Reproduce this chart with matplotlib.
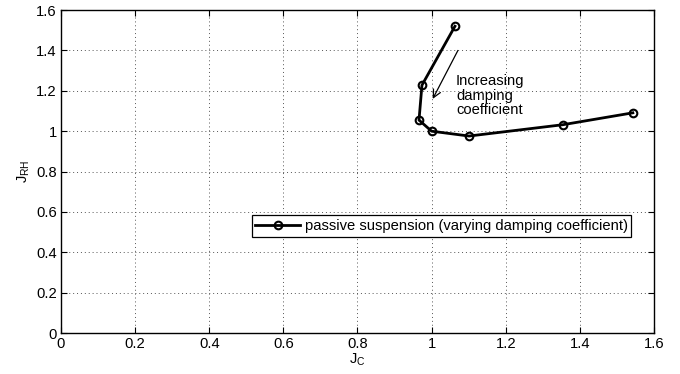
import matplotlib
matplotlib.use("Agg")
import matplotlib.pyplot as plt

plt.rcParams['font.family'] = ['Liberation Sans', 'DejaVu Sans']

jc = [1.063, 0.974, 0.966, 1.0, 1.101, 1.354, 1.543]
jrh = [1.52, 1.228, 1.055, 1.0, 0.976, 1.032, 1.091]
xticks = [0, 0.2, 0.4, 0.6, 0.8, 1, 1.2, 1.4, 1.6]
yticks = [0, 0.2, 0.4, 0.6, 0.8, 1, 1.2, 1.4, 1.6]
xtick_labels = ['0', '0.2', '0.4', '0.6', '0.8', '1', '1.2', '1.4', '1.6']
ytick_labels = ['0', '0.2', '0.4', '0.6', '0.8', '1', '1.2', '1.4', '1.6']
series_label = 'passive suspension (varying damping coefficient)'

fs = 10.6
fig = plt.figure(figsize=(6.8, 3.74), dpi=100)
ax = fig.add_axes([0.0897, 0.1096, 0.872, 0.8634])

ax.plot(jc, jrh, color='black', lw=2, marker='o', ms=5.5, mfc='none',
        mec='black', mew=1.5, label=series_label)

ax.set_xlim(0, 1.6)
ax.set_ylim(0, 1.6)
ax.set_xticks(xticks)
ax.set_xticklabels(xtick_labels)
ax.set_yticks(yticks)
ax.set_yticklabels(ytick_labels)
ax.tick_params(direction='in', top=True, right=True, labelsize=fs, length=4, width=0.8, pad=3)
ax.grid(True, linestyle=(0, (1, 3)), color='#555555', lw=0.7)
for s in ax.spines.values():
    s.set_linewidth(1.0)

ax.set_xlabel('J$_\\mathregular{C}$', fontsize=fs, labelpad=0)
ax.set_ylabel('J$_\\mathregular{RH}$', fontsize=fs, labelpad=3)

ax.annotate('', xy=(1.003, 1.16), xytext=(1.071, 1.40),
            arrowprops=dict(arrowstyle='->', color='black', lw=0.9, mutation_scale=14,
                            shrinkA=0, shrinkB=0))
ax.text(1.066, 1.175, 'Increasing\ndamping\ncoefficient', fontsize=fs,
        ha='left', va='center', linespacing=1.05)

leg = ax.legend(loc='upper right', bbox_to_anchor=(0.962, 0.365), fontsize=fs,
                frameon=True, fancybox=False, edgecolor='black', framealpha=1,
                borderpad=0.25, handlelength=3.0, handletextpad=0.35, borderaxespad=0)
leg.get_frame().set_linewidth(0.9)

fig.savefig('out.png', dpi=100)
